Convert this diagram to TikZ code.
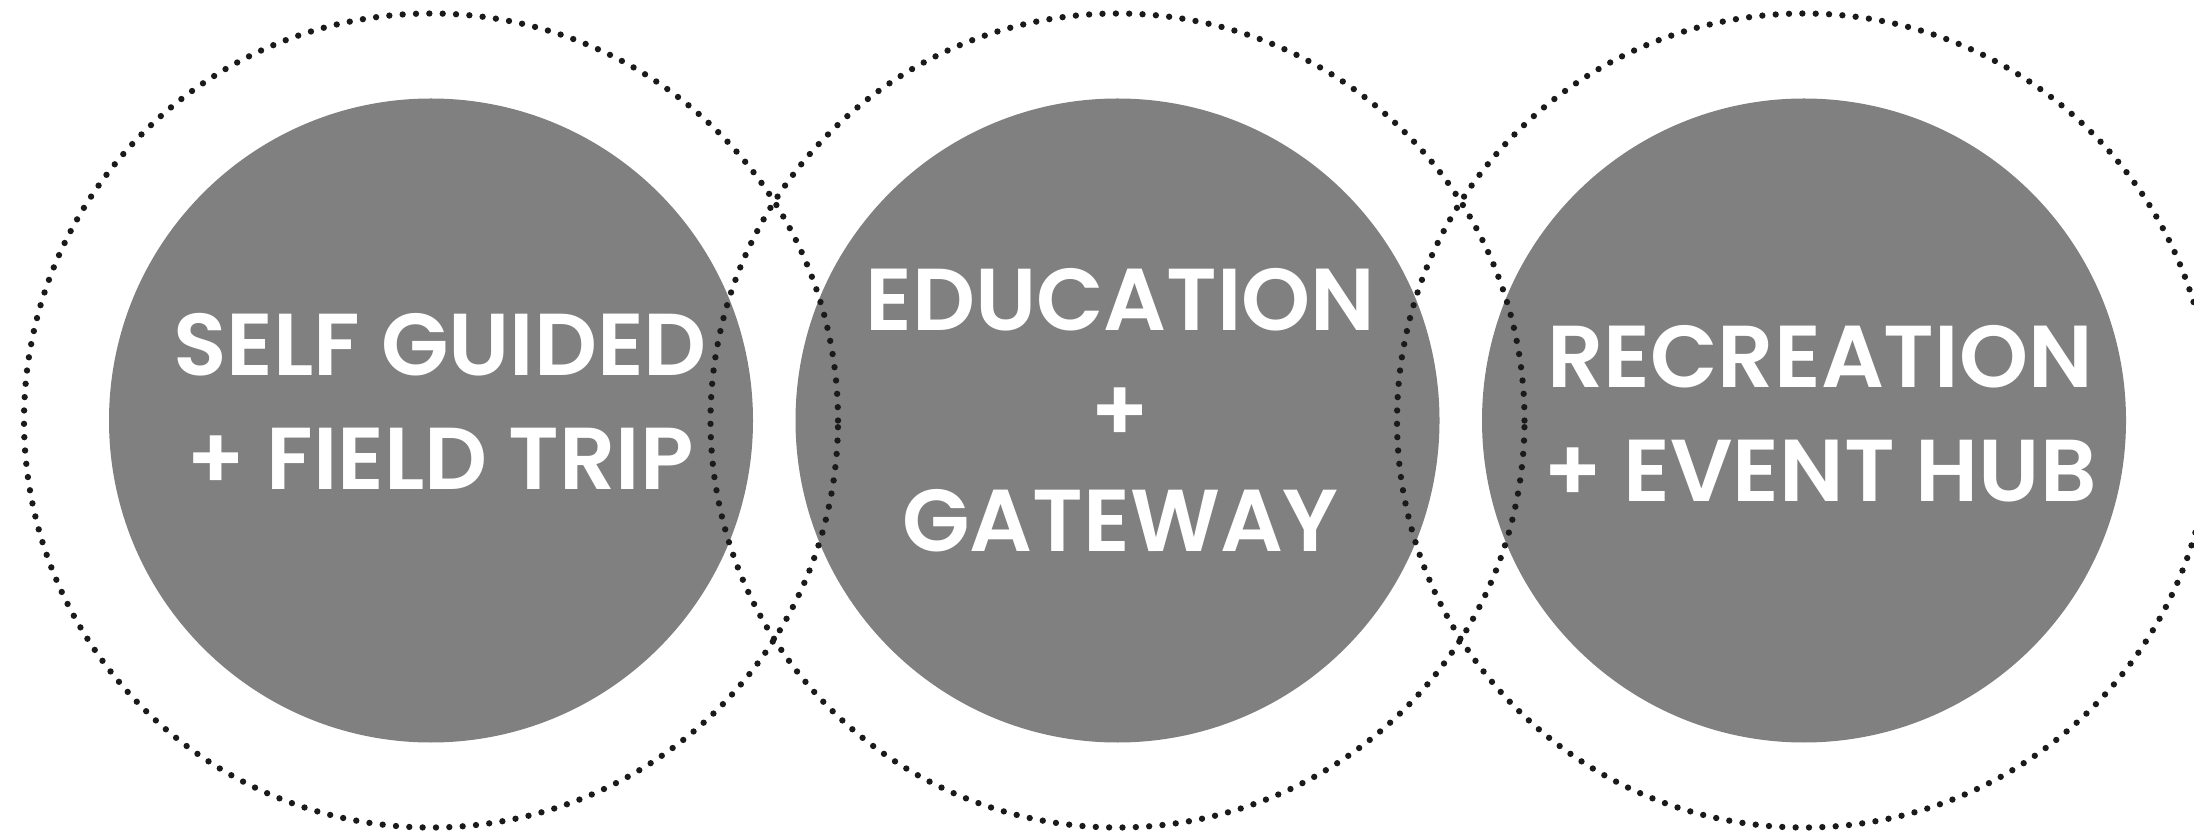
\documentclass[tikz,border=0pt]{standalone}
\usepackage{fontspec}
\usepackage{tikz}
\usetikzlibrary{positioning}
\newfontfamily\hubfont{Poppins}[BoldFont={Poppins SemiBold}]
\definecolor{hubgrey}{HTML}{808080}
\definecolor{dotblack}{HTML}{1A1A1A}

\begin{document}
\begin{tikzpicture}[
    node distance=68.65mm,
    on grid,
    hub/.style={circle,fill=hubgrey,inner sep=0pt,minimum size=64.4mm},
    ring/.style={circle,draw=dotblack,inner sep=0pt,minimum size=81.4mm,
      line width=1.8pt,line cap=round,dash pattern=on 0pt off 3.8pt},
    caption/.style={text=white,align=center,inner sep=0pt,
      font=\hubfont\bfseries\fontsize{25}{32.6}\selectfont}]

  \useasboundingbox (0,0) rectangle (21.94,8.37);

  \node[hub] (SelfGuided) at (4.31,4.165) {};
  \node[hub] (Education) [right=of SelfGuided] {};
  \node[hub] (Recreation) [right=of Education] {};

  \node[ring] (SelfGuidedRing) at (SelfGuided) {};
  \node[ring] (EducationRing) at (Education) {};
  \node[ring] (RecreationRing) at (Recreation) {};

  \node[caption] (SelfGuidedText) [above right=1.9mm and 0.9mm of SelfGuided]
    {SELF GUIDED\\+ FIELD TRIP};
  \node[caption,font=\hubfont\bfseries\fontsize{25}{31.4}\selectfont]
    (EducationText) [above right=1mm and 0.3mm of Education]
    {EDUCATION\\+\\GATEWAY};
  \node[caption] (RecreationText) [above right=0.7mm and 1.6mm of Recreation]
    {RECREATION\\+ EVENT HUB};

\end{tikzpicture}
\end{document}
